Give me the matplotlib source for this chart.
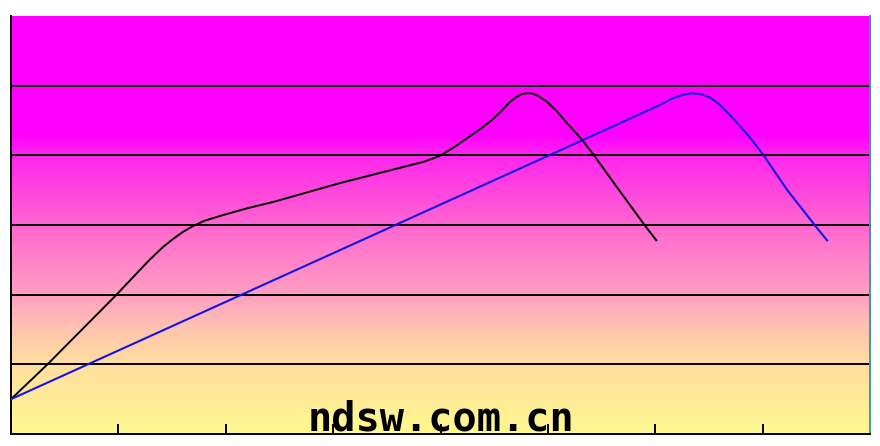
import numpy as np
import matplotlib.pyplot as plt
from matplotlib.colors import LinearSegmentedColormap

# black curve
black_x = [0.00, 0.34, 0.97, 1.29, 1.42, 1.51, 1.60, 1.69, 1.80, 1.97, 2.20,
           2.44, 3.06, 3.62, 3.85, 3.99, 4.13, 4.27, 4.39, 4.48, 4.55, 4.60,
           4.65, 4.71, 4.76, 4.80, 4.85, 4.90, 4.99, 5.08, 5.18, 5.32, 5.42,
           5.64, 5.90, 6.01]
black_y = [0.50, 1.00, 1.98, 2.50, 2.69, 2.80, 2.90, 2.98, 3.06, 3.14, 3.24,
           3.33, 3.60, 3.82, 3.91, 3.99, 4.12, 4.27, 4.40, 4.51, 4.61, 4.69,
           4.77, 4.84, 4.88, 4.89, 4.89, 4.86, 4.77, 4.64, 4.46, 4.22, 4.02,
           3.55, 3.00, 2.78]

# blue curve
blue_x = [0.00, 5.67, 6.04, 6.15, 6.26, 6.34, 6.42, 6.51, 6.59, 6.67, 6.76,
          6.88, 7.00, 7.23, 7.50, 7.60]
blue_y = [0.50, 4.46, 4.72, 4.81, 4.87, 4.89, 4.88, 4.83, 4.74, 4.62, 4.47,
          4.26, 4.02, 3.50, 2.97, 2.78]

grid_levels = [1, 2, 3, 4, 5]
x_ticks = [1, 2, 3, 4, 5, 6, 7]

fig = plt.figure(figsize=(8.8, 4.46), dpi=100)
ax = fig.add_axes([11 / 880, 12 / 446, 859 / 880, 418 / 446])

# background gradient: yellow at bottom to magenta at top
cmap = LinearSegmentedColormap.from_list("bg", [
    (0.00, "#FFF890"),
    (0.17, "#FFDDA0"),
    (0.25, "#FFC4B0"),
    (0.33, "#FFA0C2"),
    (0.50, "#FF66D0"),
    (0.67, "#FF24EE"),
    (0.72, "#FF00FF"),
    (1.00, "#FF00FF"),
])
grad = np.linspace(0, 1, 400).reshape(-1, 1)
ax.imshow(grad, cmap=cmap, origin="lower", aspect="auto",
          extent=[0, 8, 0, 6], zorder=0)

for lv in grid_levels:
    ax.axhline(lv, color="black", lw=1.4, zorder=1)

ax.plot(black_x, black_y, color="black", lw=1.4, zorder=3,
        solid_joinstyle="round")
ax.plot(blue_x, blue_y, color="#1515E0", lw=1.5, zorder=3,
        solid_joinstyle="round")

ax.text(4, 0.05, "ndsw.com.cn", family="DejaVu Sans Mono", weight="bold",
        fontsize=29, ha="center", va="baseline", color="black", zorder=4)

ax.set_xlim(0, 8)
ax.set_ylim(0, 6)
ax.set_xticks(x_ticks)
ax.set_xticklabels([])
ax.set_yticks([])
ax.tick_params(axis="x", direction="in", length=7, width=1.4, color="black")

ax.spines["top"].set_visible(False)
ax.spines["left"].set_linewidth(1.4)
ax.spines["bottom"].set_linewidth(1.4)
ax.spines["right"].set_color("#3A9AA0")
ax.spines["right"].set_linewidth(1.4)

fig.savefig("out.png", dpi=100)
